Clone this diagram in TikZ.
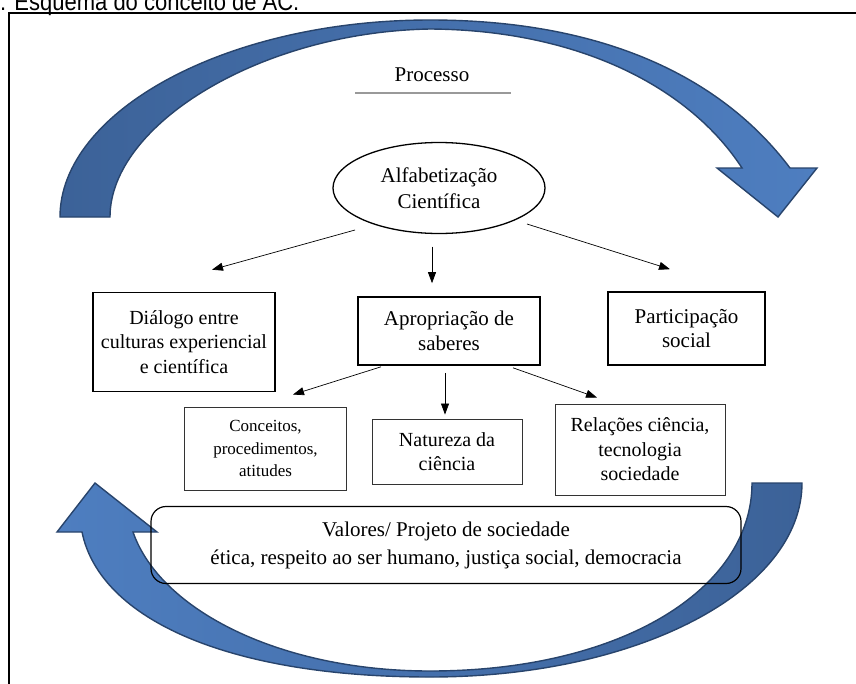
\documentclass[tikz,border=0pt]{standalone}
\usepackage{fontspec}
\setmainfont{Liberation Serif}
\newfontfamily\capfont[FakeStretch=0.88]{Liberation Sans}
\usepackage{tikz}
\usetikzlibrary{calc,shapes,positioning,arrows.meta}
\definecolor{bluelight}{RGB}{78,126,192}
\definecolor{bluedark}{RGB}{60,98,152}
\definecolor{blueline}{RGB}{40,68,108}

\begin{document}
\begin{tikzpicture}[x=1pt,y=-1pt,
    bigbox/.style={draw,line width=1.6pt,align=center,inner sep=0pt,font=\fontsize{20}{24.5}\selectfont},
    smallbox/.style={draw=black!80,line width=0.9pt,align=center,inner sep=0pt,font=\fontsize{20}{24.5}\selectfont},
    arr/.style={-{Triangle[length=11pt,width=8pt]},line width=0.7pt},
    bluearrow/.style={draw=blueline,line width=1.4pt,line join=miter}]
\useasboundingbox (0,0) rectangle (856,683);
\clip (0,0) rectangle (856,683);
\node[anchor=base west,inner sep=0pt,font=\capfont\fontsize{25}{25}\selectfont] (legenda) at (0,10) {: Esquema do conceito de AC.};
\draw[line width=1.6pt] (9,13) rectangle (880,700);

\path[bluearrow,left color=bluedark,right color=bluelight]
  (60,217) .. controls (60,112) and (225,20) .. (430,20)
  .. controls (600,20) and (720,75) .. (790,168)
  -- (817,168) -- (778,217) -- (717,168) -- (742,168)
  .. controls (690,88) and (580,30) .. (430,29)
  .. controls (260,32) and (110,125) .. (110,217) -- cycle;
\path[bluearrow,left color=bluelight,right color=bluedark]
  (802,483) .. controls (802,590) and (640,677) .. (430,677)
  .. controls (230,677) and (100,620) .. (82,532)
  -- (57,532) -- (95,483) -- (157,532) -- (133,532)
  .. controls (160,610) and (280,671) .. (430,671)
  .. controls (620,671) and (752,590) .. (752,483) -- cycle;

\node[font=\fontsize{21}{24}\selectfont] (processo) at (432,75) {Processo};
\draw[line width=2.5pt,black!40] (355,93) -- (511,93);

\node[ellipse,draw,line width=1.3pt,minimum width=212pt,minimum height=91pt,inner sep=0pt,align=center,font=\fontsize{21}{26}\selectfont] (alfa) at (439,188) {Alfabetização\\Científica};

\node[bigbox,minimum width=182pt,minimum height=99pt] (dialogo) at (184,342) {Diálogo entre\\culturas experiencial\\e científica};
\node[bigbox,minimum width=182pt,minimum height=68pt,font=\fontsize{21}{24.5}\selectfont] (aprop) at (449,331) {Apropriação de\\saberes};
\node[bigbox,minimum width=157pt,minimum height=73pt,font=\fontsize{21}{24.5}\selectfont] (partic) at (686.5,328.5) {Participação\\social};

\node[smallbox,minimum width=162pt,minimum height=83pt,font=\fontsize{17}{22.5}\selectfont] (conc) at (265.5,448.5) {Conceitos,\\procedimentos,\\atitudes};
\node[smallbox,minimum width=150pt,minimum height=65pt] (natur) at (447,451.5) {Natureza da\\ciência};
\node[smallbox,minimum width=170pt,minimum height=91pt] (relac) at (640,449.5) {Relações ciência,\\tecnologia\\sociedade};

\node[draw,rounded corners=15pt,line width=1.2pt,minimum width=590pt,minimum height=77pt,align=center,font=\fontsize{21}{28}\selectfont] (valores) at (446,545) {Valores/ Projeto de sociedade\\ética, respeito ao ser humano, justiça social, democracia};

\draw[arr] ($(alfa)+(-84,42)$) -- ($(dialogo.north)+(28,-22)$);
\draw[arr] ($(alfa.south)+(-7,12.5)$) -- ($(aprop.north)+(-17,-13)$);
\draw[arr] ($(alfa)+(88,36)$) -- ($(partic.north)+(-16.5,-22)$);
\draw[arr] ($(aprop.south)+(-68,1)$) -- ($(conc.north)+(27.5,-12)$);
\draw[arr] ($(aprop.south)+(-4,7)$) -- ($(natur.north)+(-2,-4)$);
\draw[arr] ($(aprop.south)+(64,2)$) -- ($(relac.north)+(-43,-6)$);
\end{tikzpicture}
\end{document}
